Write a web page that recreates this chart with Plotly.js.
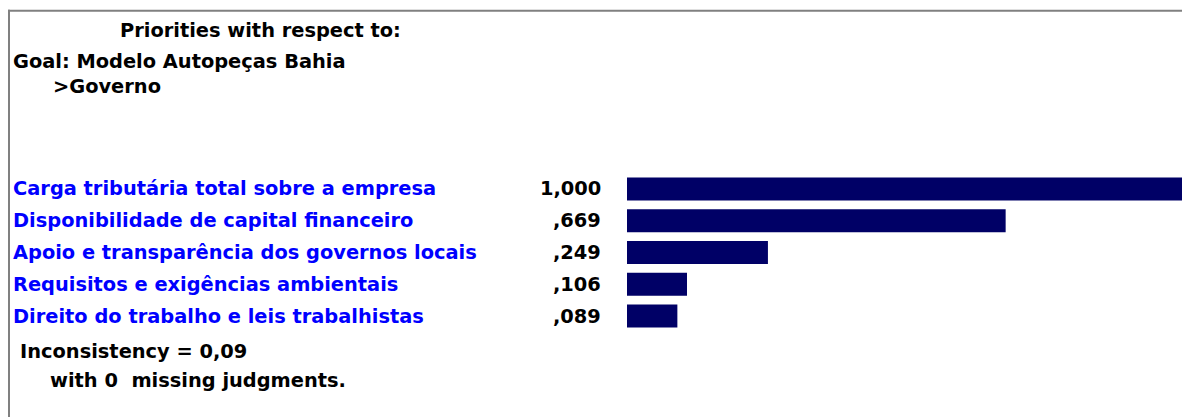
<!DOCTYPE html>
<html>
<head>
<meta charset="utf-8">
<script src="https://cdn.plot.ly/plotly-3.0.1.min.js"></script>
<style>
  html, body { margin: 0; padding: 0; background: #ffffff; }
  #chart { width: 1182px; height: 417px; }
</style>
</head>
<body>
<div id="chart"></div>
<script>
// ---- data ----
const categories = [
  "Carga tributária total sobre a empresa",
  "Disponibilidade de capital financeiro",
  "Apoio e transparência dos governos locais",
  "Requisitos e exigências ambientais",
  "Direito do trabalho e leis trabalhistas"
];
const priorities = [1.000, 0.669, 0.249, 0.106, 0.089];
const headerTitle = "Priorities with respect to:";
const goalLine = "Goal: Modelo Autopeças Bahia";
const nodeLine = ">Governo";
const inconsistencyLine = "Inconsistency = 0,09";
const missingLine = "with 0  missing judgments.";

// ---- layout geometry (pixels) ----
const W = 1182, H = 417;
const plotL = 627, plotR = 1182;
const rowGap = 31.75;
const plotT = 173.1;
const plotB = plotT + rowGap * categories.length;
const pxPerUnit = 566;

function px2x(px) { return (px - plotL) / (plotR - plotL); }
function px2y(py) { return (plotB - py) / (plotB - plotT); }
function fmt(v) {
  const s = v.toFixed(3).replace('.', ',');
  return s.startsWith('0,') ? s.slice(1) : s;
}

const fontFam = "'DejaVu Sans', Verdana, sans-serif";
const fs = 19.4;
const black = { family: fontFam, size: fs, color: '#000000', weight: 'bold' };
const blue = { family: fontFam, size: fs, color: '#0000ff', weight: 'bold' };

const annotations = [];
function addText(text, pxX, pxY, anchor, font) {
  annotations.push({
    text: text, xref: 'paper', yref: 'paper',
    x: px2x(pxX), y: px2y(pxY), xanchor: anchor, yanchor: 'middle',
    showarrow: false, font: font
  });
}
addText(headerTitle, 118, 31, 'left', black);
addText(goalLine, 11, 62, 'left', black);
addText(nodeLine, 51, 87, 'left', black);
categories.forEach((c, i) => {
  annotations.push({
    text: c, xref: 'paper', yref: 'y', x: px2x(11), y: c,
    xanchor: 'left', yanchor: 'middle', showarrow: false, font: blue
  });
  annotations.push({
    text: fmt(priorities[i]), xref: 'paper', yref: 'y', x: px2x(603), y: c,
    xanchor: 'right', yanchor: 'middle', showarrow: false, font: black
  });
});
addText(inconsistencyLine, 18, 351, 'left', black);
addText(missingLine, 48, 380, 'left', black);

const shapes = [
  { type: 'line', xref: 'paper', yref: 'paper',
    x0: px2x(9), x1: px2x(9), y0: px2y(10), y1: px2y(H + 5),
    line: { color: '#808080', width: 2 } },
  { type: 'line', xref: 'paper', yref: 'paper',
    x0: px2x(8), x1: px2x(W + 5), y0: px2y(11), y1: px2y(11),
    line: { color: '#808080', width: 2 } }
];

const trace = {
  type: 'bar', orientation: 'h',
  x: priorities, y: categories,
  marker: { color: '#000066', line: { width: 0 } },
  hoverinfo: 'x+y'
};

const layout = {
  width: W, height: H,
  margin: { l: plotL, r: W - plotR, t: plotT, b: H - plotB, pad: 0 },
  paper_bgcolor: '#ffffff', plot_bgcolor: '#ffffff',
  showlegend: false,
  bargap: 0.276,
  xaxis: { range: [0, (plotR - plotL) / pxPerUnit], visible: false, fixedrange: true },
  yaxis: { type: 'category', autorange: 'reversed', visible: false, fixedrange: true },
  annotations: annotations,
  shapes: shapes
};

Plotly.newPlot('chart', [trace], layout, { displayModeBar: false, staticPlot: true });
</script>
</body>
</html>
